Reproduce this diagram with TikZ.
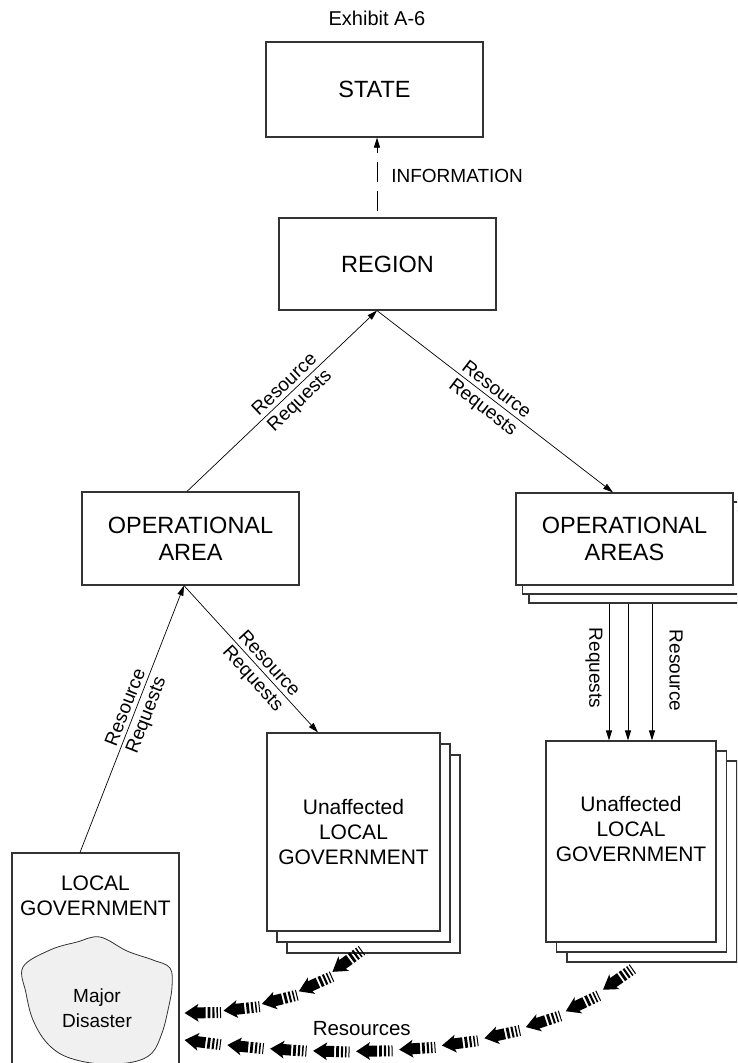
\documentclass[tikz,border=0pt]{standalone}
\usepackage{fontspec}
\setmainfont{Liberation Sans}
\usetikzlibrary{arrows.meta,shadows,decorations.markings}

% one striped fat arrow of the resource flow, tip at the origin
\newcommand{\fatpiece}{%
  \fill (0,0) -- (14,9) -- (12.5,5.5) -- (21,5.5) -- (21,-5.5) -- (12.5,-5.5) -- (14,-9) -- cycle;
  \fill (23,-5.5) rectangle (25.8,5.5);
  \fill (27.8,-5.5) rectangle (29.9,5.5);
  \fill (31.9,-5.5) rectangle (33.4,5.5);
  \fill (35.4,-5.5) rectangle (36.4,5.5);
}

\tikzset{
  box/.style={draw=black!80, line width=1.2pt, fill=white, minimum width=217pt,
    minimum height=92pt, align=center, font=\fontsize{23.5}{27}\selectfont},
  lgbox/.style={box, font=\fontsize{21}{25}\selectfont},
  arr/.style={-{Triangle[length=10pt,width=6pt]}, line width=0.7pt},
  lbl/.style={font=\fontsize{19}{25}\selectfont, inner sep=1pt},
  reqlbl/.style={lbl, sloped, inner sep=4pt},
  infodash/.style={dash pattern=on 20pt off 9pt, dash phase=23pt},
  resflow/.style 2 args={decoration={markings,
      mark=between positions 0 and #1 step #2 with {\fatpiece}},
    postaction={decorate}},
}

\begin{document}
\begin{tikzpicture}[x=1pt, y=-1pt]
    \useasboundingbox (0,0) rectangle (737,1063);
    \clip (0,0) rectangle (737,1063);

    \node[font=\fontsize{20}{24}\selectfont] (title) at (377,18) {Exhibit A-6};

    % boxes
    \node[box, minimum height=95pt] (state) at (374.5,89.5) {STATE};
    \node[box] (region) at (387.5,264) {REGION};
    \node[box, minimum height=93pt] (oparea) at (190.5,538.5) {OPERATIONAL\\AREA};
    \node[box, double copy shadow={shadow xshift=6.5pt, shadow yshift=-9pt}] (opareas) at (624.5,539) {OPERATIONAL\\AREAS};
    \node[lgbox, minimum width=173pt, minimum height=198pt,
      double copy shadow={shadow xshift=10pt, shadow yshift=-11pt}] (unaffl) at (353.5,832) {Unaffected\\LOCAL\\GOVERNMENT};
    \node[lgbox, minimum width=170pt, minimum height=201pt,
      double copy shadow={shadow xshift=10.5pt, shadow yshift=-10pt}] (unaffr) at (631,841.5) {};
    \node[align=center, font=\fontsize{21}{25}\selectfont] (unaffrtext) at ([yshift=13pt]unaffr.center) {Unaffected\\LOCAL\\GOVERNMENT};
    \node[lgbox, minimum width=167pt, minimum height=227pt] (locgov) at (95.5,966.5) {};
    \node[align=center, font=\fontsize{21}{25}\selectfont] (locgovtext) at (95.5,895.5) {LOCAL\\GOVERNMENT};

    % the disaster area
    \draw[black!80, line width=0.8pt, fill=black!6] plot[smooth cycle, tension=0.6] coordinates {
      (23,967) (50,950) (77,942) (100,937) (127,951) (153,960) (170,968) (172,987)
      (168,1010) (162,1033) (152,1053) (133,1062) (100,1064) (67,1057) (47,1043)
      (33,1020) (26,993)};
    \node[lbl, align=center] (disaster) at (97,1008) {Major\\Disaster};

    % information and requests
    \coordinate (rtop) at ([xshift=-10.5pt]region.north);
    \coordinate (rbot) at ([xshift=-10.5pt]region.south);
    \draw[arr, infodash] (rtop) -- node[lbl, pos=0.52, right=13pt] (info) {INFORMATION} (rtop |- state.south);

    \draw[arr] ([xshift=-3.5pt]oparea.north) --
      node[reqlbl, above, pos=0.55] (reqa1) {Resource}
      node[reqlbl, below, pos=0.55] (reqa2) {Requests} (rbot);
    \draw[arr] (rbot) --
      node[reqlbl, above, pos=0.48] (reqb1) {Resource}
      node[reqlbl, below, pos=0.48] (reqb2) {Requests} ([xshift=-11.5pt]opareas.north);
    \draw[arr] ([xshift=-15.5pt]locgov.north) --
      node[reqlbl, above, pos=0.53] (reqc1) {Resource}
      node[reqlbl, below, pos=0.53] (reqc2) {Requests} ([xshift=-6.5pt]oparea.south);
    \draw[arr] ([xshift=-6.5pt]oparea.south) --
      node[reqlbl, above, pos=0.58] (reqd1) {Resource}
      node[reqlbl, below, pos=0.58] (reqd2) {Requests} ([xshift=-35.5pt]unaffl.north);

    \coordinate (q1) at ([xshift=-15.5pt, yshift=-18pt]opareas.south);
    \coordinate (q2) at ([xshift=3.5pt, yshift=-18pt]opareas.south);
    \coordinate (q3) at ([xshift=27.5pt, yshift=-18pt]opareas.south);
    \draw[arr] (q1) -- node[lbl, pos=0.47, xshift=-15pt, rotate=-90] (reqe2) {Requests} (q1 |- unaffr.north);
    \draw[arr] (q2) -- (q2 |- unaffr.north);
    \draw[arr] (q3) -- node[lbl, pos=0.49, xshift=24pt, rotate=-90] (reqe1) {Resource} (q3 |- unaffr.north);

    % resources flowing back
    \path[resflow={160pt}{39pt}] ([xshift=5pt, yshift=-46.5pt]locgov.east)
      .. controls (260,1012) and (320,993) .. ([xshift=8.5pt, yshift=-13pt]unaffl.south);
    \path[resflow={435pt}{43pt}] ([xshift=5pt, yshift=-73.5pt]locgov.east)
      .. controls (400,1068) and (555,1045) .. ([xshift=4pt, yshift=-20pt]unaffr.south)
      node[pos=0.3, above=12pt, font=\fontsize{20.5}{24}\selectfont] (reslbl) {Resources};
\end{tikzpicture}
\end{document}
